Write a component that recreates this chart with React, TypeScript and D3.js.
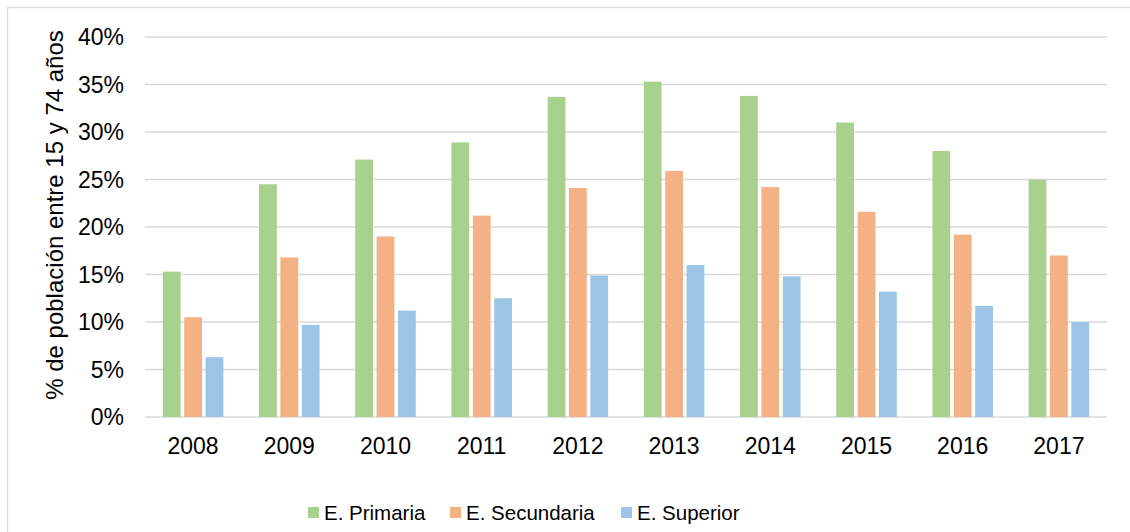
import { useMemo } from "react";
import * as d3 from "d3";

const years = ["2008", "2009", "2010", "2011", "2012", "2013", "2014", "2015", "2016", "2017"];
const primaria = [15.3, 24.5, 27.1, 28.9, 33.7, 35.3, 33.8, 31.0, 28.0, 25.0];
const secundaria = [10.5, 16.8, 19.0, 21.2, 24.1, 25.9, 24.2, 21.6, 19.2, 17.0];
const superior = [6.3, 9.7, 11.2, 12.5, 14.9, 16.0, 14.8, 13.2, 11.7, 10.0];
const seriesNames = ["E. Primaria", "E. Secundaria", "E. Superior"];
const yTicks = [0, 5, 10, 15, 20, 25, 30, 35, 40];

const COLORS = ["#a9d18e", "#f4b183", "#9dc3e6"];
const FONT = "'Liberation Sans', Arial, sans-serif";

const App = () => {
  const width = 1130,
    height = 532;
  const plot = { left: 145, right: 1107, top: 37, bottom: 417 };

  const series = [primaria, secundaria, superior];

  const xScale = useMemo(
    () => d3.scaleBand().domain(years).range([plot.left, plot.right]).paddingInner(0).paddingOuter(0),
    []
  );
  const yScale = useMemo(() => d3.scaleLinear().domain([0, 40]).range([plot.bottom, plot.top]), []);

  // gap width 150% => each group takes 3 of 4.5 bar slots
  const slot = xScale.bandwidth() / 4.5;
  const inner = d3
    .scaleBand()
    .domain(seriesNames)
    .range([0, slot * 3]);

  const grid = yTicks.map((t) => (
    <g key={t}>
      <line x1={plot.left} x2={plot.right} y1={yScale(t)} y2={yScale(t)} stroke="#d9d9d9" strokeWidth={1.3} />
      <text
        x={124}
        y={yScale(t)}
        textAnchor="end"
        dominantBaseline="central"
        fontSize={23}
        fill="#000"
      >
        {t}%
      </text>
    </g>
  ));

  const bars = years.map((yr, i) => {
    const gx = (xScale(yr) as number) + slot * 0.75;
    return (
      <g key={yr}>
        {series.map((vals, s) => (
          <rect
            key={s}
            x={gx + (inner(seriesNames[s]) as number) + 1.8}
            y={yScale(vals[i])}
            width={inner.bandwidth() - 3.6}
            height={yScale(0) - yScale(vals[i])}
            fill={COLORS[s]}
          />
        ))}
        <text
          x={(xScale(yr) as number) + xScale.bandwidth() / 2}
          y={454}
          textAnchor="middle"
          fontSize={23}
          fill="#000"
        >
          {yr}
        </text>
      </g>
    );
  });

  const legendX = [308, 450, 621];
  const legend = seriesNames.map((n, s) => (
    <g key={n}>
      <rect x={legendX[s]} y={507} width={11} height={11} fill={COLORS[s]} />
      <text x={legendX[s] + 16} y={520} fontSize={20.5} fill="#000">
        {n}
      </text>
    </g>
  ));

  return (
    <div style={{ position: "absolute", left: 0, top: 0 }}>
      <svg width={width} height={height} style={{ display: "block", fontFamily: FONT, background: "#fff" }}>
        <rect x={7.5} y={7.5} width={1130} height={530} fill="none" stroke="#d9d9d9" strokeWidth={1.3} />
        {grid}
        {bars}
        {legend}
        <text
          transform={`translate(63,215) rotate(-90)`}
          textAnchor="middle"
          fontSize={24}
          fill="#000"
        >
          % de población entre 15 y 74 años
        </text>
      </svg>
    </div>
  );
};

export default App;
